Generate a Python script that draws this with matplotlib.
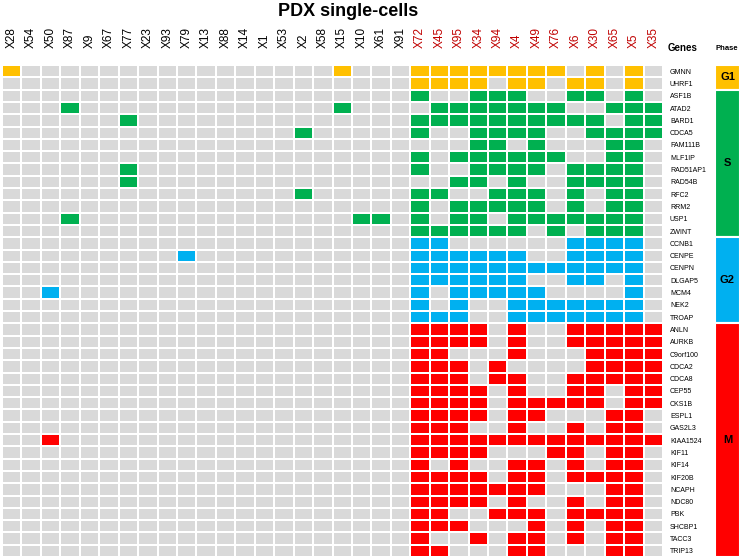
import matplotlib.pyplot as plt
import numpy as np
from matplotlib.colors import ListedColormap

plt.rcParams['font.family'] = ['Liberation Sans', 'DejaVu Sans']

# single cells (columns); the last 13 are labelled in red
cells = ["X28", "X54", "X50", "X87", "X9", "X67", "X77", "X23", "X93", "X79", "X13",
         "X88", "X14", "X1", "X53", "X2", "X58", "X15", "X10", "X61", "X91",
         "X72", "X45", "X95", "X34", "X94", "X4", "X49", "X76", "X6", "X30", "X65", "X5", "X35"]
n_black = 21

genes = ["GMNN", "UHRF1",
         "ASF1B", "ATAD2", "BARD1", "CDCA5", "FAM111B", "MLF1IP", "RAD51AP1", "RAD54B",
         "RFC2", "RRM2", "USP1", "ZWINT",
         "CCNB1", "CENPE", "CENPN", "DLGAP5", "MCM4", "NEK2", "TROAP",
         "ANLN", "AURKB", "C9orf100", "CDCA2", "CDCA8", "CEP55", "CKS1B", "ESPL1", "GAS2L3",
         "KIAA1524", "KIF11", "KIF14", "KIF20B", "NCAPH", "NDC80", "PBK", "SHCBP1", "TACC3", "TRIP13"]

phases = ["G1", "S", "G2", "M"]
phase_sizes = [2, 12, 7, 19]
phase_colors = ["#FFC000", "#00B050", "#00B0F0", "#FF0000"]

# 1 = gene detected in the cell (left block 21 cells | right block 13 cells)
hits = [
    "100000000000000001000" + "1111111101010",  # GMNN
    "000000000000000000000" + "1111011011010",  # UHRF1
    "000000000000000000000" + "1001110011010",  # ASF1B
    "000100000000000001000" + "0111111100111",  # ATAD2
    "000000100000000000000" + "1111111111011",  # BARD1
    "000000000000000100000" + "1001111001111",  # CDCA5
    "000000000000000000000" + "0001101000110",  # FAM111B
    "000000000000000000000" + "1011111100110",  # MLF1IP
    "000000100000000000000" + "1001111011110",  # RAD51AP1
    "000000100000000000000" + "0011010011110",  # RAD54B
    "000000000000000100000" + "1100111010110",  # RFC2
    "000000000000000000000" + "1011111010110",  # RRM2
    "000100000000000000110" + "1011011111110",  # USP1
    "000000000000000000000" + "1111110101110",  # ZWINT
    "000000000000000000000" + "1100000011110",  # CCNB1
    "000000000100000000000" + "1111110011110",  # CENPE
    "000000000000000000000" + "1111111111110",  # CENPN
    "000000000000000000000" + "1111110011010",  # DLGAP5
    "001000000000000000000" + "1011111000010",  # MCM4
    "000000000000000000000" + "1010011111110",  # NEK2
    "000000000000000000000" + "1110011111110",  # TROAP
    "000000000000000000000" + "1111010011111",  # ANLN
    "000000000000000000000" + "1111010011111",  # AURKB
    "000000000000000000000" + "1100010001111",  # C9orf100
    "000000000000000000000" + "1110100001111",  # CDCA2
    "000000000000000000000" + "1110110011111",  # CDCA8
    "000000000000000000000" + "1111010011011",  # CEP55
    "000000000000000000000" + "1111011111011",  # CKS1B
    "000000000000000000000" + "1111011000110",  # ESPL1
    "000000000000000000000" + "1110010010110",  # GAS2L3
    "001000000000000000000" + "1111111111111",  # KIAA1524
    "000000000000000000000" + "1111000110110",  # KIF11
    "000000000000000000000" + "1010011010110",  # KIF14
    "000000000000000000000" + "1111011011110",  # KIF20B
    "000000000000000000000" + "1111111000110",  # NCAPH
    "000000000000000000000" + "1111010010110",  # NDC80
    "000000000000000000000" + "1100111011110",  # PBK
    "000000000000000000000" + "1110001010110",  # SHCBP1
    "000000000000000000000" + "1001011010110",  # TACC3
    "000000000000000000000" + "1100011000110",  # TRIP13
]

phase_of_row = np.repeat(np.arange(len(phases)), phase_sizes)
mat = np.array([[int(c) for c in row] for row in hits])
mat = mat * (phase_of_row[:, None] + 1)

fig = plt.figure(figsize=(7.44, 5.58), dpi=100)
bottom = 1 - 557 / 558
height = 492 / 558
ax = fig.add_axes([2 / 744, bottom, 661 / 744, height])

cmap = ListedColormap(["#D9D9D9"] + phase_colors)
ax.pcolormesh(mat, cmap=cmap, vmin=-0.5, vmax=4.5, edgecolors="white", linewidth=1.2)
ax.set_xlim(0, len(cells))
ax.set_ylim(len(genes), 0)

ax.xaxis.tick_top()
ax.set_xticks(np.arange(len(cells)) + 0.5)
ax.set_xticklabels(cells, rotation=90, fontsize=8.5)
for i, lab in enumerate(ax.get_xticklabels()):
    if i >= n_black:
        lab.set_color("#C00000")
ax.yaxis.tick_right()
ax.set_yticks(np.arange(len(genes)) + 0.5)
ax.set_yticklabels(genes, fontsize=5)
ax.tick_params(axis="x", length=0, pad=12)
ax.tick_params(axis="y", length=0, pad=5)
for s in ax.spines.values():
    s.set_visible(False)

# phase bar
pax = fig.add_axes([715 / 744, bottom, 25 / 744, height])
starts = np.concatenate([[0], np.cumsum(phase_sizes)[:-1]])
pax.bar(0.5, phase_sizes, bottom=starts, width=1, color=phase_colors,
        edgecolor="white", linewidth=1.5)
for p, s0, n in zip(phases, starts, phase_sizes):
    pax.text(0.5, s0 + n / 2, p, ha="center", va="center", fontsize=8, fontweight="bold")
pax.set_xlim(0, 1)
pax.set_ylim(len(genes), 0)
pax.axis("off")

fig.text(348 / 744, 1 - 11 / 558, "PDX single-cells", ha="center", va="center",
         fontsize=13, fontweight="bold")
fig.text(668 / 744, 1 - 48 / 558, "Genes", ha="left", va="center", fontsize=7, fontweight="bold")
fig.text(727 / 744, 1 - 48 / 558, "Phase", ha="center", va="center", fontsize=5.5, fontweight="bold")

fig.savefig("out.png", dpi=100)
